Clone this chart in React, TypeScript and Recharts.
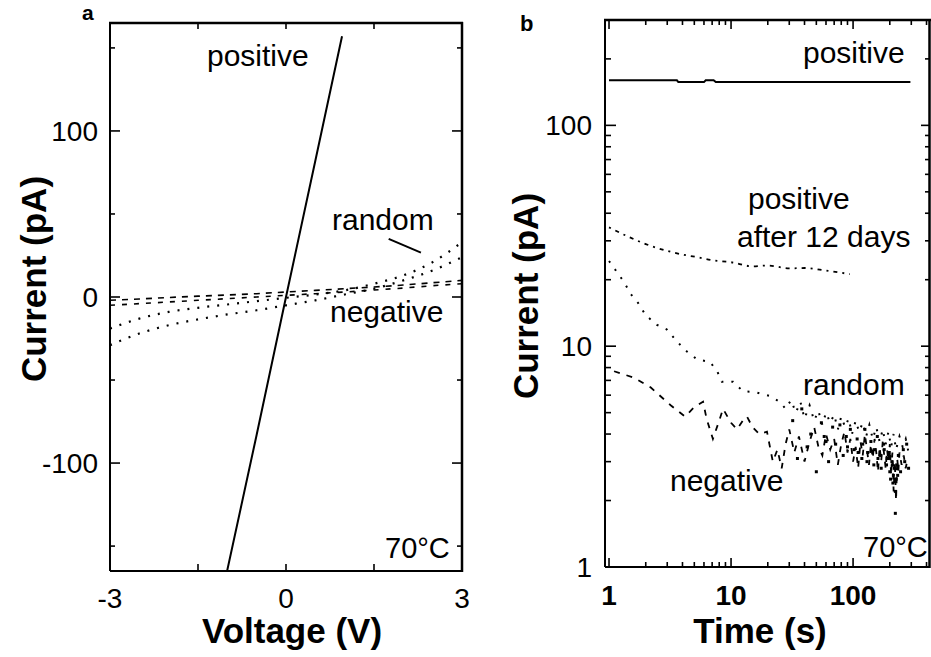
import React from "react";
import { LineChart, ComposedChart, Line, Scatter, XAxis, YAxis, ReferenceLine } from "recharts";

const FONT = "'Liberation Sans', Arial, Helvetica, sans-serif";

// panel a: current vs voltage
const voltageDomain = [-3, 3];
const currentDomainA = [-165, 165];
const voltageTicks = [-3, -1.5, 0, 1.5, 3];
const voltageLabels = [-3, 0, 3];
const currentTicksA = [-150, -100, -50, 0, 50, 100, 150];
const currentLabelsA = [-100, 0, 100];

const ivPositive = [
  { v: -1.01, i: -166 },
  { v: -0.5, i: -83 },
  { v: 0, i: 0 },
  { v: 0.5, i: 82 },
  { v: 0.955, i: 157 },
];
const ivNegativeFwd = [
  { v: -3, i: -2 }, { v: -2.5, i: -1.2 }, { v: -2, i: -0.3 }, { v: -1.5, i: 0.5 },
  { v: -1, i: 1.2 }, { v: -0.5, i: 2 }, { v: 0, i: 3 }, { v: 0.5, i: 4 },
  { v: 1, i: 5 }, { v: 1.5, i: 6 }, { v: 2, i: 7.2 }, { v: 2.5, i: 8.6 }, { v: 3, i: 10 },
];
const ivNegativeRev = [
  { v: -3, i: -5 }, { v: -2.5, i: -4 }, { v: -2, i: -3 }, { v: -1.5, i: -2 },
  { v: -1, i: -1 }, { v: -0.5, i: 0 }, { v: 0, i: 1 }, { v: 0.5, i: 2 },
  { v: 1, i: 3 }, { v: 1.5, i: 4.2 }, { v: 2, i: 5.4 }, { v: 2.5, i: 6.8 }, { v: 3, i: 8 },
];
const ivRandomUp = [
  { v: -3, i: -19 }, { v: -2.5, i: -13 }, { v: -2, i: -9 }, { v: -1.5, i: -6.5 },
  { v: -1, i: -4.5 }, { v: -0.5, i: -2.5 }, { v: 0, i: -0.5 }, { v: 0.5, i: 1.5 },
  { v: 1, i: 4 }, { v: 1.5, i: 8 }, { v: 2, i: 13 }, { v: 2.5, i: 21 }, { v: 3, i: 33 },
];
const ivRandomLow = [
  { v: -3, i: -29 }, { v: -2.5, i: -22 }, { v: -2, i: -17 }, { v: -1.5, i: -13.5 },
  { v: -1, i: -10.5 }, { v: -0.5, i: -8 }, { v: 0, i: -5 }, { v: 0.5, i: -2 },
  { v: 1, i: 1.5 }, { v: 1.5, i: 5 }, { v: 2, i: 10 }, { v: 2.5, i: 16 }, { v: 3, i: 24 },
];

// panel b: current vs time (log-log)
const timeDomain = [0.927, 427];
const currentDomainB = [1, 300];
const timeTicks = [1, 2, 3, 4, 5, 6, 7, 8, 9, 10, 20, 30, 40, 50, 60, 70, 80, 90, 100, 200, 300, 400];
const timeLabels = [1, 10, 100];
const currentTicksB = [1, 2, 3, 4, 5, 6, 7, 8, 9, 10, 20, 30, 40, 50, 60, 70, 80, 90, 100, 200];
const currentLabelsB = [1, 10, 100];

const tPositive = [
  { t: 1, i: 160 }, { t: 3.6, i: 160 }, { t: 3.7, i: 157 }, { t: 6, i: 157 },
  { t: 6.2, i: 160 }, { t: 7.2, i: 160 }, { t: 7.5, i: 157 }, { t: 100, i: 157 }, { t: 295, i: 157 },
];
const tPositive12d = [
  { t: 1, i: 34.5 }, { t: 1.5, i: 31 }, { t: 2, i: 29 }, { t: 3, i: 27 }, { t: 4, i: 26 },
  { t: 5.3, i: 25.3 }, { t: 7, i: 24.5 }, { t: 10, i: 24 }, { t: 15, i: 23 }, { t: 20, i: 23.2 },
  { t: 30, i: 22.5 }, { t: 40, i: 22.6 }, { t: 60, i: 22 }, { t: 80, i: 21.5 }, { t: 94, i: 21.2 },
];
const tRandom = [
  { t: 1, i: 24.3 }, { t: 1.33, i: 19.5 }, { t: 1.51, i: 17.2 }, { t: 1.73, i: 15.7 }, { t: 2, i: 13.8 },
  { t: 2.47, i: 12.5 }, { t: 2.98, i: 11.9 }, { t: 3.6, i: 10.5 }, { t: 4.4, i: 9.4 }, { t: 5.3, i: 8.7 },
  { t: 6.7, i: 8.5 }, { t: 7.7, i: 7.7 }, { t: 8.4, i: 6.9 }, { t: 10.4, i: 6.9 }, { t: 12.5, i: 6.25 },
  { t: 15.7, i: 6.2 }, { t: 20.8, i: 5.95 }, { t: 25, i: 5.6 }, { t: 28, i: 5.2 }, { t: 31, i: 5.7 },
  { t: 34, i: 5.0 }, { t: 37, i: 5.6 }, { t: 40, i: 4.7 }, { t: 44, i: 5.4 }, { t: 48, i: 4.6 },
  { t: 52, i: 5.1 }, { t: 56, i: 4.4 }, { t: 60, i: 5.0 }, { t: 65, i: 4.5 }, { t: 70, i: 4.9 },
  { t: 75, i: 4.2 }, { t: 80, i: 4.8 }, { t: 86, i: 4.3 }, { t: 92, i: 4.7 }, { t: 98, i: 4.0 },
  { t: 105, i: 4.6 }, { t: 112, i: 4.1 }, { t: 120, i: 4.5 }, { t: 128, i: 3.9 }, { t: 136, i: 4.4 },
  { t: 145, i: 3.8 }, { t: 155, i: 4.3 }, { t: 165, i: 3.7 }, { t: 175, i: 4.2 }, { t: 185, i: 3.6 },
  { t: 195, i: 4.1 }, { t: 205, i: 3.5 }, { t: 215, i: 4.0 }, { t: 225, i: 3.4 }, { t: 240, i: 3.9 },
  { t: 255, i: 3.5 }, { t: 270, i: 3.8 }, { t: 285, i: 3.3 },
];
const tNegative = [
  { t: 1.1, i: 7.7 }, { t: 1.6, i: 7.2 }, { t: 2.2, i: 6.5 }, { t: 3.2, i: 5.4 }, { t: 4.2, i: 4.8 },
  { t: 5, i: 5.3 }, { t: 5.9, i: 5.6 }, { t: 6.3, i: 4.7 }, { t: 7.1, i: 3.8 }, { t: 8, i: 4.6 },
  { t: 8.6, i: 5.2 }, { t: 10, i: 4.5 }, { t: 11.2, i: 4.2 }, { t: 12.5, i: 4.6 }, { t: 13.5, i: 4.8 },
  { t: 15, i: 4.3 }, { t: 17, i: 4.0 }, { t: 19.7, i: 4.1 }, { t: 22, i: 3.0 }, { t: 24, i: 3.4 },
  { t: 26, i: 2.8 }, { t: 28, i: 3.6 }, { t: 30, i: 4.2 }, { t: 33, i: 3.3 }, { t: 36, i: 3.9 },
  { t: 40, i: 3.0 }, { t: 44, i: 3.7 }, { t: 48, i: 4.3 }, { t: 52, i: 3.5 }, { t: 56, i: 3.2 },
  { t: 60, i: 4.0 }, { t: 65, i: 3.4 }, { t: 70, i: 3.8 }, { t: 75, i: 2.9 }, { t: 80, i: 3.6 },
  { t: 85, i: 4.1 }, { t: 90, i: 3.3 }, { t: 95, i: 3.8 }, { t: 100, i: 3.0 }, { t: 105, i: 3.5 },
  { t: 110, i: 2.8 }, { t: 115, i: 3.7 }, { t: 120, i: 3.2 }, { t: 125, i: 4.0 }, { t: 130, i: 3.4 },
  { t: 135, i: 2.9 }, { t: 140, i: 3.6 }, { t: 145, i: 3.1 }, { t: 150, i: 3.8 }, { t: 155, i: 3.3 },
  { t: 160, i: 2.7 }, { t: 165, i: 3.5 }, { t: 170, i: 3.0 }, { t: 175, i: 3.7 }, { t: 180, i: 3.2 },
  { t: 185, i: 2.8 }, { t: 190, i: 3.4 }, { t: 195, i: 3.0 }, { t: 200, i: 3.6 }, { t: 205, i: 2.6 },
  { t: 210, i: 3.3 }, { t: 215, i: 2.2 }, { t: 220, i: 3.0 }, { t: 225, i: 2.0 }, { t: 230, i: 3.1 },
  { t: 235, i: 2.7 }, { t: 240, i: 3.3 }, { t: 250, i: 2.9 }, { t: 260, i: 3.2 }, { t: 270, i: 2.8 },
  { t: 280, i: 3.1 },
];
const tCluster = [
  { t: 32, i: 4.6 }, { t: 35, i: 3.1 }, { t: 38, i: 5.2 }, { t: 42, i: 3.5 }, { t: 45, i: 4.0 },
  { t: 50, i: 2.7 }, { t: 55, i: 4.5 }, { t: 58, i: 3.9 }, { t: 63, i: 3.0 }, { t: 68, i: 4.3 },
  { t: 72, i: 3.6 }, { t: 78, i: 4.4 }, { t: 83, i: 3.2 }, { t: 88, i: 3.9 }, { t: 95, i: 4.2 },
  { t: 102, i: 3.4 }, { t: 108, i: 3.8 }, { t: 118, i: 3.1 }, { t: 125, i: 4.2 }, { t: 132, i: 3.3 },
  { t: 140, i: 3.7 }, { t: 148, i: 2.9 }, { t: 158, i: 3.9 }, { t: 168, i: 3.2 }, { t: 178, i: 3.6 },
  { t: 188, i: 2.9 }, { t: 198, i: 3.3 }, { t: 203, i: 2.5 }, { t: 208, i: 3.0 }, { t: 212, i: 2.4 },
  { t: 218, i: 2.8 }, { t: 222, i: 2.2 }, { t: 228, i: 2.9 }, { t: 235, i: 3.2 }, { t: 245, i: 2.7 },
  { t: 258, i: 3.4 }, { t: 265, i: 3.0 }, { t: 275, i: 3.6 }, { t: 285, i: 2.8 }, { t: 222, i: 1.75 },
  { t: 110, i: 3.3 }, { t: 130, i: 3.0 }, { t: 150, i: 3.4 }, { t: 170, i: 2.8 }, { t: 190, i: 3.1 },
  { t: 200, i: 2.7 }, { t: 214, i: 2.6 }, { t: 226, i: 2.5 }, { t: 232, i: 2.6 }, { t: 210, i: 2.9 },
  { t: 120, i: 3.6 }, { t: 160, i: 3.1 }, { t: 180, i: 3.4 }, { t: 60, i: 3.7 }, { t: 90, i: 3.5 },
];

type Side = "bottom" | "top" | "left" | "right";

function frameTick(side: Side, labels: number[], major: number, minor: number, opts: { size?: number; bold?: boolean; gap?: number; majors?: number[] } = {}) {
  const size = opts.size ?? 28;
  const gap = opts.gap ?? 37;
  const majors = opts.majors ?? labels;
  return (p: any) => {
    const v = p.payload.value;
    const x = p.x;
    const y = p.y;
    const len = majors.includes(v) ? major : minor;
    const show = labels.includes(v) && (side === "bottom" || side === "left");
    let line;
    if (side === "bottom") line = <line x1={x} y1={y} x2={x} y2={y - len} stroke="#000" strokeWidth={1.6} />;
    else if (side === "top") line = <line x1={x} y1={y} x2={x} y2={y + len} stroke="#000" strokeWidth={1.6} />;
    else if (side === "left") line = <line x1={x} y1={y} x2={x + len} y2={y} stroke="#000" strokeWidth={1.6} />;
    else line = <line x1={x} y1={y} x2={x - len} y2={y} stroke="#000" strokeWidth={1.6} />;
    return (
      <g>
        {line}
        {show && side === "bottom" && (
          <text x={x} y={y + gap} textAnchor="middle" fontSize={size} fontFamily={FONT} fontWeight={opts.bold ? 700 : 400} fill="#000">
            {String(v)}
          </text>
        )}
        {show && side === "left" && (
          <text x={x - gap} y={y} dy="0.36em" textAnchor="end" fontSize={size} fontFamily={FONT} fontWeight={opts.bold ? 700 : 400} fill="#000">
            {String(v)}
          </text>
        )}
      </g>
    );
  };
}

const axisLine = { stroke: "#000", strokeWidth: 2 };

const Dot = (p: any) => <rect x={p.cx - 1.5} y={p.cy - 1.5} width={3} height={3} fill="#000" />;

// invisible series so the top/right frame axes get a domain and render their ticks
const cornersA = [
  { v: voltageDomain[0], i: currentDomainA[0] },
  { v: voltageDomain[1], i: currentDomainA[1] },
];
const cornersB = [
  { t: timeDomain[0], i: currentDomainB[0] },
  { t: timeDomain[1], i: currentDomainB[1] },
];

function PanelA() {
  return (
    <LineChart width={470} height={657} margin={{ top: 22, right: 7, bottom: 46, left: 10 }}>
      <XAxis xAxisId="b" dataKey="v" type="number" domain={voltageDomain} allowDataOverflow ticks={voltageTicks} interval={0}
        axisLine={axisLine} tickLine={false} tickSize={0} tickMargin={0} height={40}
        tick={frameTick("bottom", voltageLabels, 7, 7, { gap: 37, majors: voltageTicks })} />
      <XAxis xAxisId="t" orientation="top" dataKey="v" type="number" domain={voltageDomain} allowDataOverflow ticks={voltageTicks} interval={0}
        axisLine={false} tickLine={false} tickSize={0} tickMargin={0} height={1}
        tick={frameTick("top", [], 6, 6)} />
      <YAxis yAxisId="l" dataKey="i" type="number" domain={currentDomainA} allowDataOverflow ticks={currentTicksA} interval={0}
        axisLine={axisLine} tickLine={false} tickSize={0} tickMargin={0} width={100}
        tick={frameTick("left", currentLabelsA, 10, 5, { gap: 12 })} />
      <YAxis yAxisId="r" orientation="right" dataKey="i" type="number" domain={currentDomainA} allowDataOverflow ticks={currentTicksA} interval={0}
        axisLine={false} tickLine={false} tickSize={0} tickMargin={0} width={1}
        tick={frameTick("right", [], 10, 5, { majors: currentLabelsA })} />
      <Line xAxisId="t" yAxisId="r" data={cornersA} dataKey="i" stroke="none" dot={false} isAnimationActive={false} />
      <Line xAxisId="b" yAxisId="l" data={ivRandomUp} dataKey="i" type="monotone" stroke="#000" strokeWidth={2.2} strokeDasharray="2 8" dot={false} isAnimationActive={false} />
      <Line xAxisId="b" yAxisId="l" data={ivRandomLow} dataKey="i" type="monotone" stroke="#000" strokeWidth={2.2} strokeDasharray="2 8" dot={false} isAnimationActive={false} />
      <Line xAxisId="b" yAxisId="l" data={ivNegativeFwd} dataKey="i" type="linear" stroke="#000" strokeWidth={1.6} strokeDasharray="6 6" dot={false} isAnimationActive={false} />
      <Line xAxisId="b" yAxisId="l" data={ivNegativeRev} dataKey="i" type="linear" stroke="#000" strokeWidth={1.6} strokeDasharray="5 7" dot={false} isAnimationActive={false} />
      <Line xAxisId="b" yAxisId="l" data={ivPositive} dataKey="i" type="linear" stroke="#000" strokeWidth={2} dot={false} isAnimationActive={false} />
      <ReferenceLine xAxisId="b" yAxisId="l" segment={[{ x: 1.75, y: 35 }, { x: 2.3, y: 26.7 }]} stroke="#000" strokeWidth={2} ifOverflow="visible" />
    </LineChart>
  );
}

function PanelB() {
  return (
    <ComposedChart width={470} height={657} margin={{ top: 19, right: 9, bottom: 50, left: 35 }}>
      <XAxis xAxisId="b" dataKey="t" type="number" scale="log" domain={timeDomain} allowDataOverflow ticks={timeTicks} interval={0}
        axisLine={axisLine} tickLine={false} tickSize={0} tickMargin={0} height={40}
        tick={frameTick("bottom", timeLabels, 9, 5, { gap: 38, bold: true })} />
      <XAxis xAxisId="t" orientation="top" dataKey="t" type="number" scale="log" domain={timeDomain} allowDataOverflow ticks={timeTicks} interval={0}
        axisLine={false} tickLine={false} tickSize={0} tickMargin={0} height={1}
        tick={frameTick("top", [], 9, 5, { majors: timeLabels })} />
      <YAxis yAxisId="l" dataKey="i" type="number" scale="log" domain={currentDomainB} allowDataOverflow ticks={currentTicksB} interval={0}
        axisLine={axisLine} tickLine={false} tickSize={0} tickMargin={0} width={100}
        tick={frameTick("left", currentLabelsB, 11, 6, { gap: 13 })} />
      <YAxis yAxisId="r" orientation="right" dataKey="i" type="number" scale="log" domain={currentDomainB} allowDataOverflow ticks={currentTicksB} interval={0}
        axisLine={false} tickLine={false} tickSize={0} tickMargin={0} width={1}
        tick={frameTick("right", [], 9, 5, { majors: currentLabelsB })} />
      <Line xAxisId="t" yAxisId="r" data={cornersB} dataKey="i" stroke="none" dot={false} isAnimationActive={false} />
      <Line xAxisId="b" yAxisId="l" data={tPositive} dataKey="i" type="linear" stroke="#000" strokeWidth={2} dot={false} isAnimationActive={false} />
      <Line xAxisId="b" yAxisId="l" data={tPositive12d} dataKey="i" type="monotone" stroke="#000" strokeWidth={1.8} strokeDasharray="2 5 4 5" dot={false} isAnimationActive={false} />
      <Line xAxisId="b" yAxisId="l" data={tRandom} dataKey="i" type="linear" stroke="#000" strokeWidth={2} strokeDasharray="2 8" dot={false} isAnimationActive={false} />
      <Line xAxisId="b" yAxisId="l" data={tNegative} dataKey="i" type="linear" stroke="#000" strokeWidth={1.8} strokeDasharray="6 7" dot={false} isAnimationActive={false} />
      <Scatter xAxisId="b" yAxisId="l" data={tCluster} dataKey="i" shape={Dot} isAnimationActive={false} />
    </ComposedChart>
  );
}

const txt = { fontFamily: FONT, fill: "#000" } as const;

export default function App() {
  return (
    <div style={{ position: "absolute", left: 0, top: 0, width: 931, height: 657, overflow: "hidden", background: "#fff" }}>
      <div style={{ position: "absolute", left: 0, top: 0 }}>
        <PanelA />
      </div>
      <div style={{ position: "absolute", left: 470, top: 0 }}>
        <PanelB />
      </div>
      <svg width={931} height={657} style={{ position: "absolute", left: 0, top: 0, pointerEvents: "none" }}>
        {/* top and right edges of both plot frames */}
        <line x1={109} y1={23} x2={463} y2={23} stroke="#000" strokeWidth={2.5} />
        <line x1={462} y1={22} x2={462} y2={572} stroke="#000" strokeWidth={2.5} />
        <line x1={604} y1={20} x2={931} y2={20} stroke="#000" strokeWidth={2.5} />
        <line x1={929.5} y1={19} x2={929.5} y2={568} stroke="#000" strokeWidth={2.5} />
        <text x={82} y={20} fontSize={21} fontWeight={700} {...txt}>a</text>
        <text x={520} y={31} fontSize={22} fontWeight={700} {...txt}>b</text>
        <text transform="translate(33,279) rotate(-90)" textAnchor="middle" dy="0.36em" fontSize={35} fontWeight={700} {...txt}>Current (pA)</text>
        <text transform="translate(525,296) rotate(-90)" textAnchor="middle" dy="0.36em" fontSize={35} fontWeight={700} {...txt}>Current (pA)</text>
        <text x={292} y={643} textAnchor="middle" fontSize={35} fontWeight={700} {...txt}>Voltage (V)</text>
        <text x={760} y={643} textAnchor="middle" fontSize={35} fontWeight={700} {...txt}>Time (s)</text>
        <text x={207} y={66} fontSize={30} {...txt}>positive</text>
        <text x={332} y={230} fontSize={30} {...txt}>random</text>
        <text x={330} y={322} fontSize={30} {...txt}>negative</text>
        <text x={385} y={558} fontSize={29} {...txt}>70°C</text>
        <text x={803} y={63} fontSize={30} {...txt}>positive</text>
        <text x={748} y={209} fontSize={30} {...txt}>positive</text>
        <text x={737} y={247} fontSize={30} {...txt}>after 12 days</text>
        <text x={803} y={395} fontSize={30} {...txt}>random</text>
        <text x={670} y={491} fontSize={30} {...txt}>negative</text>
        <text x={863} y={557} fontSize={29} {...txt}>70°C</text>
      </svg>
    </div>
  );
}
